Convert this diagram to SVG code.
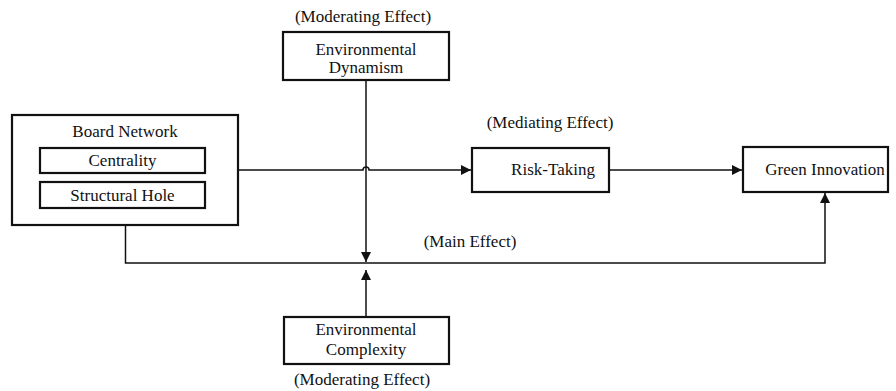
<svg xmlns="http://www.w3.org/2000/svg" width="896" height="391" viewBox="0 0 896 391">
<defs>
<style>
.t{font-family:'Liberation Serif','DejaVu Serif',serif;font-size:17px;fill:#111;text-anchor:middle}
.box{fill:#fff;stroke:#111;stroke-width:2.2}
.ln{fill:none;stroke:#111;stroke-width:1.5}
</style>
<marker id="ah" viewBox="0 0 10 10" refX="10" refY="5" markerWidth="10" markerHeight="10" markerUnits="userSpaceOnUse" orient="auto">
<path d="M0,0 L10,5 L0,10 z" fill="#111"/>
</marker>
</defs>
<rect width="896" height="391" fill="#fff"/>
<g id="connectors">
<path class="ln" d="M238,170 H363 A3,3 0 0 1 369,170 H471" marker-end="url(#ah)"/>
<path class="ln" d="M609,170 H742" marker-end="url(#ah)"/>
<path class="ln" d="M125.5,225 V263 H825 V193" marker-end="url(#ah)"/>
<path class="ln" d="M366,80 V262" marker-end="url(#ah)"/>
<path class="ln" d="M366,317 V270" marker-end="url(#ah)"/>
</g>
<g id="board-network">
<rect class="box" x="12" y="115" width="226" height="110"/>
<text class="t" x="125" y="137">Board Network</text>
<g id="centrality">
<rect class="box" x="40" y="148" width="165" height="25"/>
<text class="t" x="122.5" y="166">Centrality</text>
</g>
<g id="structural-hole">
<rect class="box" x="40" y="182" width="165" height="26"/>
<text class="t" x="122.5" y="201">Structural Hole</text>
</g>
</g>
<g id="env-dynamism">
<text class="t" x="363" y="22">(Moderating Effect)</text>
<rect class="box" x="283" y="32" width="166" height="48"/>
<text class="t" x="366" y="55">Environmental</text>
<text class="t" x="366" y="73">Dynamism</text>
</g>
<g id="risk-taking">
<text class="t" x="550" y="128">(Mediating Effect)</text>
<rect class="box" x="472" y="148" width="137" height="44"/>
<text class="t" x="553" y="175">Risk-Taking</text>
</g>
<g id="green-innovation">
<rect class="box" x="743" y="147" width="145" height="45"/>
<text class="t" x="825" y="175">Green Innovation</text>
</g>
<g id="main-effect">
<text class="t" x="470" y="247">(Main Effect)</text>
</g>
<g id="env-complexity">
<rect class="box" x="284" y="317" width="165" height="47"/>
<text class="t" x="366" y="335">Environmental</text>
<text class="t" x="366" y="355">Complexity</text>
<text class="t" x="362" y="385">(Moderating Effect)</text>
</g>
</svg>
